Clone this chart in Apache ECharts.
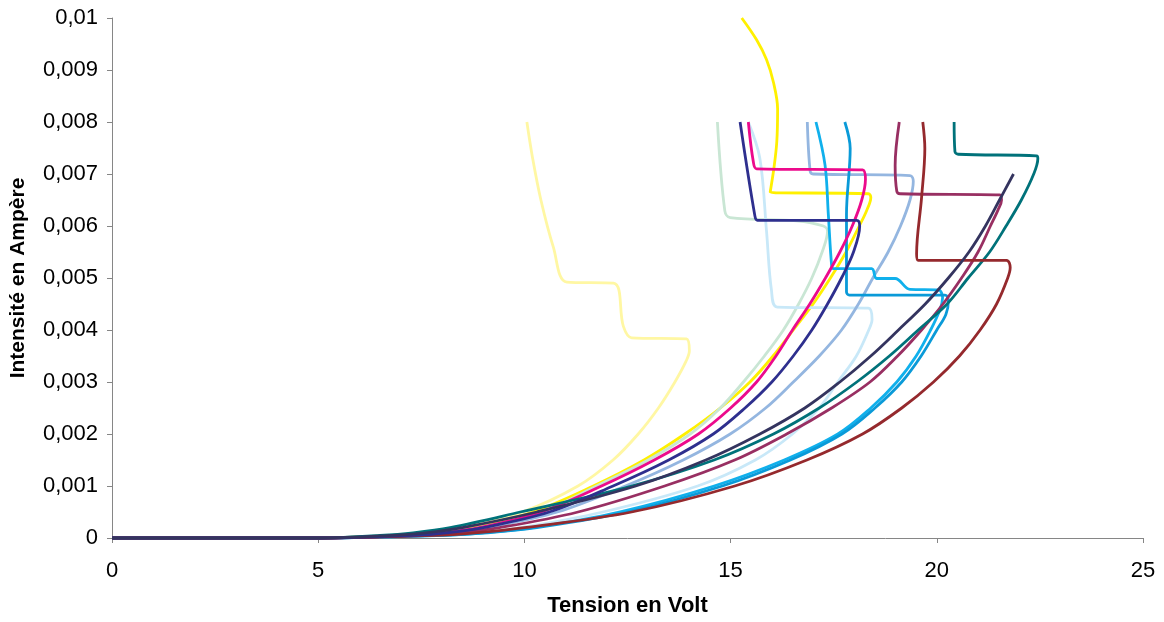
<!DOCTYPE html>
<html>
<head>
<meta charset="utf-8">
<script src="https://cdn.jsdelivr.net/npm/echarts@6/dist/echarts.min.js"></script>
<style>
html,body{margin:0;padding:0;background:#fff;}
#chart{width:1164px;height:622px;}
</style>
</head>
<body>
<div id="chart"></div>
<script>
// Axis tick labels
const xTickLabels = ['0', '5', '10', '15', '20', '25'];
const yTickLabels = ['0', '0,001', '0,002', '0,003', '0,004', '0,005', '0,006', '0,007', '0,008', '0,009', '0,01'];

// Curves: [tension (V), intensité (A)]
const lightYellow = [[0,0],[5,0],[6.8,0.00005],[7.6,0.0001],[8.5,0.0002],[9.95,0.0005],[11.3,0.001],[12.15,0.0015],[12.76,0.002],[13.25,0.0025],[13.65,0.003],[13.92,0.0034],[14.0,0.0036],[13.93,0.00383],[12.6,0.00385],[12.4,0.00407],[12.16,0.0049],[11.03,0.00492],[10.7,0.0056],[10.4,0.0065],[10.2,0.0073],[10.06,0.008]];
const yellow = [[0,0],[5,0],[7.0,0.00005],[7.8,0.0001],[8.7,0.0002],[10.2,0.0005],[11.67,0.001],[12.9,0.0015],[13.89,0.002],[14.75,0.0025],[15.47,0.003],[16.03,0.0035],[16.52,0.004],[17.0,0.0045],[17.42,0.005],[17.8,0.0055],[18.12,0.006],[18.3,0.0063],[18.4,0.00655],[18.34,0.00662],[15.96,0.00665],[16.05,0.00711],[16.12,0.00762],[16.14,0.00825],[16.04,0.00876],[15.87,0.0092],[15.63,0.00958],[15.27,0.01]];
const magenta = [[0,0],[5,0],[7.2,0.00005],[8.0,0.0001],[8.9,0.0002],[10.4,0.0005],[11.87,0.001],[13.15,0.0015],[14.22,0.002],[15.0,0.0025],[15.63,0.003],[16.1,0.0035],[16.5,0.004],[16.92,0.0045],[17.3,0.005],[17.65,0.0055],[17.95,0.006],[18.18,0.0065],[18.27,0.0069],[18.2,0.00708],[15.63,0.0071],[15.55,0.00724],[15.43,0.008]];
const navy = [[0,0],[5,0],[7.3,0.00005],[8.1,0.0001],[9.0,0.0002],[10.6,0.0005],[12.15,0.001],[13.5,0.0015],[14.58,0.002],[15.35,0.0025],[16.0,0.003],[16.52,0.0035],[16.97,0.004],[17.35,0.0045],[17.69,0.005],[17.98,0.0055],[18.13,0.006],[18.06,0.00611],[15.65,0.00611],[15.59,0.00619],[15.23,0.008]];
const lightGreen = [[0,0],[5,0],[7.2,0.00005],[8.0,0.0001],[8.9,0.0002],[10.4,0.0005],[11.75,0.001],[13.0,0.0015],[14.02,0.002],[14.75,0.0025],[15.31,0.003],[15.82,0.0035],[16.28,0.004],[16.65,0.0045],[16.97,0.005],[17.22,0.0055],[17.35,0.0059],[17.25,0.006],[16.6,0.0061],[14.99,0.00616],[14.86,0.00629],[14.68,0.008]];
const lightSteel = [[0,0],[5,0],[7.3,0.00005],[8.2,0.0001],[9.1,0.0002],[10.8,0.0005],[12.45,0.001],[13.85,0.0015],[14.99,0.002],[15.85,0.0025],[16.52,0.003],[17.15,0.0035],[17.69,0.004],[18.1,0.0045],[18.45,0.005],[18.82,0.0055],[19.12,0.006],[19.35,0.0065],[19.43,0.00686],[19.35,0.00697],[17.0,0.007],[16.93,0.00705],[16.86,0.008]];
const darkSlate = [[0,0],[5,0],[6.8,0.00005],[7.6,0.0001],[8.5,0.0002],[10.3,0.0005],[12.7,0.001],[14.4,0.0015],[15.71,0.002],[16.8,0.0025],[17.65,0.003],[18.4,0.0035],[19.07,0.004],[19.72,0.0045],[20.28,0.005],[20.78,0.0055],[21.18,0.006],[21.52,0.0065],[21.86,0.007]];
const teal = [[0,0],[5,0],[6.5,0.00005],[7.3,0.0001],[8.2,0.0002],[9.9,0.0005],[12.6,0.001],[14.6,0.0015],[16.04,0.002],[17.15,0.0025],[18.06,0.003],[18.85,0.0035],[19.55,0.004],[20.25,0.0045],[20.76,0.005],[21.28,0.0055],[21.68,0.006],[22.05,0.0065],[22.35,0.007],[22.45,0.0073],[22.42,0.00735],[20.52,0.00738],[20.44,0.00743],[20.42,0.008]];
const plum = [[0,0],[5,0],[7.5,0.00005],[8.4,0.0001],[9.4,0.0002],[11.3,0.0005],[13.4,0.001],[15.1,0.0015],[16.36,0.002],[17.45,0.0025],[18.38,0.003],[19.05,0.0035],[19.63,0.004],[20.15,0.0045],[20.6,0.005],[21.0,0.0055],[21.3,0.006],[21.48,0.0063],[21.57,0.0065],[21.53,0.0066],[19.11,0.00662],[19.03,0.00667],[18.99,0.00717],[19.09,0.008]];
const lightSky = [[0,0],[5,0],[7.8,0.00005],[8.8,0.0001],[9.9,0.0002],[11.9,0.0005],[14.2,0.001],[15.6,0.0015],[16.5,0.002],[17.15,0.0025],[17.6,0.003],[18.05,0.0035],[18.35,0.004],[18.43,0.0042],[18.34,0.00442],[16.13,0.00444],[15.99,0.00477],[15.87,0.00591],[15.71,0.0073],[15.43,0.008]];
const skyBlue1 = [[0,0],[5,0],[8.0,0.00005],[9.0,0.0001],[10.2,0.0002],[12.3,0.0005],[14.6,0.001],[16.3,0.0015],[17.6,0.002],[18.4,0.0025],[19.03,0.003],[19.5,0.0035],[19.85,0.004],[20.08,0.0044],[20.14,0.00462],[20.04,0.00477],[19.35,0.00478],[18.99,0.00499],[18.54,0.00499],[18.42,0.00518],[17.49,0.00518],[17.45,0.00524],[17.37,0.00622],[17.29,0.00717],[17.07,0.008]];
const skyBlue2 = [[0,0],[5,0],[8.0,0.00005],[9.1,0.0001],[10.3,0.0002],[12.5,0.0005],[14.8,0.001],[16.45,0.0015],[17.7,0.002],[18.5,0.0025],[19.15,0.003],[19.62,0.0035],[20.0,0.004],[20.22,0.0043],[20.28,0.00455],[20.2,0.00467],[17.88,0.00467],[17.81,0.00473],[17.81,0.00622],[17.9,0.00749],[17.77,0.008]];
const darkRed = [[0,0],[5,0],[7.8,0.00005],[8.8,0.0001],[10.0,0.0002],[12.6,0.0005],[15.1,0.001],[16.85,0.0015],[18.2,0.002],[19.15,0.0025],[19.92,0.003],[20.55,0.0035],[21.05,0.004],[21.45,0.0045],[21.72,0.005],[21.78,0.0052],[21.69,0.00534],[19.55,0.00534],[19.51,0.00546],[19.63,0.00654],[19.71,0.00749],[19.66,0.008]];

const curves = [
  {data: lightYellow, color: '#fff7a3'},
  {data: yellow, color: '#fff000'},
  {data: lightGreen, color: '#c9e6d4'},
  {data: lightSky, color: '#c8e8f8'},
  {data: lightSteel, color: '#94b6e0'},
  {data: skyBlue1, color: '#10b0ec'},
  {data: skyBlue2, color: '#0a9ad8'},
  {data: magenta, color: '#ec0a8c'},
  {data: plum, color: '#982f62'},
  {data: teal, color: '#00727a'},
  {data: darkRed, color: '#95292d'},
  {data: navy, color: '#2e2f8e'},
  {data: darkSlate, color: '#34345f'}
];

const chart = echarts.init(document.getElementById('chart'), null, {renderer: 'canvas'});
const axisColor = '#868686';
const fontFamily = 'Liberation Sans, Arial, sans-serif';
chart.setOption({
  animation: false,
  backgroundColor: '#ffffff',
  grid: {left: 112, right: 21, top: 18, bottom: 78, containLabel: false},
  xAxis: {
    type: 'value', min: 0, max: 25, interval: 5,
    name: 'Tension en Volt', nameLocation: 'middle', nameGap: 57,
    nameTextStyle: {fontFamily, fontSize: 22, fontWeight: 'bold', color: '#000'},
    axisLine: {lineStyle: {color: axisColor, width: 1}},
    axisTick: {show: true, length: 5, lineStyle: {color: axisColor}},
    axisLabel: {fontFamily, fontSize: 22, color: '#000', margin: 22,
      formatter: v => xTickLabels[Math.round(v / 5)]},
    splitLine: {show: false}
  },
  yAxis: {
    type: 'value', min: 0, max: 0.01, interval: 0.001,
    name: 'Intensité en Ampère', nameLocation: 'middle', nameGap: 83,
    nameTextStyle: {fontFamily, fontSize: 21, fontWeight: 'bold', color: '#000'},
    axisLine: {show: true, lineStyle: {color: axisColor, width: 1}},
    axisTick: {show: true, length: 5, lineStyle: {color: axisColor}},
    axisLabel: {fontFamily, fontSize: 22, color: '#000', margin: 14,
      formatter: v => yTickLabels[Math.round(v / 0.001)]},
    splitLine: {show: false}
  },
  series: curves.map(c => ({
    type: 'line', data: c.data, showSymbol: false, smooth: 0.35,
    lineStyle: {color: c.color, width: 2.8}, itemStyle: {color: c.color},
    clip: false
  }))
});
</script>
</body>
</html>
